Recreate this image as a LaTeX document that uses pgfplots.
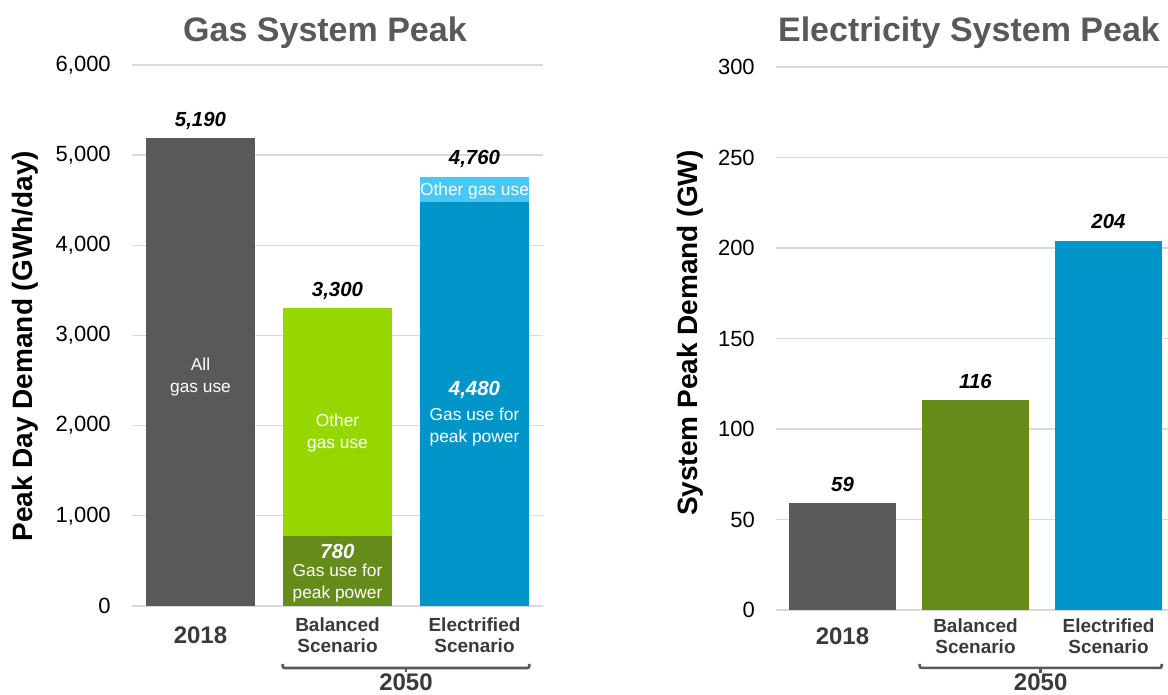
\documentclass[border=0pt]{standalone}
\usepackage{fontspec}
\setmainfont{Liberation Sans}
\usepackage{pgfplots}
\pgfplotsset{compat=1.18}
\definecolor{cgray}{HTML}{58595B}
\definecolor{clgreen}{HTML}{97D700}
\definecolor{cdgreen}{HTML}{658B1B}
\definecolor{cblue}{HTML}{0095C9}
\definecolor{clblue}{HTML}{48C8F5}
\definecolor{ctitle}{HTML}{595959}
\definecolor{cgrid}{HTML}{D9D9D9}
\definecolor{ccat}{HTML}{3A3A3A}
\pgfplotsset{
 mystyle/.style={
  scale only axis, anchor=south west,
  xmin=-0.5, xmax=2.5, ymin=0,
  axis line style={draw=none},
  major tick length=0pt, tick style={draw=none},
  ymajorgrids, grid style={cgrid, line width=1pt},
  xtick={0,1,2},
  xticklabels={{\fontsize{18}{20}\selectfont 2018}, {Balanced\\Scenario}, {Electrified\\Scenario}},
  xticklabel style={align=center, anchor=center, font=\bfseries\fontsize{14.25}{15.75}\selectfont, text=ccat},
  yticklabel style={anchor=east, inner sep=0pt, xshift=-15.75pt, font=\fontsize{16.5}{19}\selectfont},
  /pgf/number format/assume math mode=true,
  /pgf/number format/1000 sep={,},
  ybar, bar width=0.8,
  clip=false,
 },
 tot/.style={nodes near coords, nodes near coords style={font=\bfseries\itshape\fontsize{15.3}{18}\selectfont, anchor=base, yshift=9pt, text=black}},
}
\newcommand{\inner}{\fontsize{13}{16.5}\selectfont}
\newcommand{\innerv}{\bfseries\itshape\fontsize{15.3}{18}\selectfont}
\begin{document}
\begin{tikzpicture}
\path[use as bounding box] (0,0) rectangle (876pt,521.25pt);
% ---------------- Gas ----------------
\begin{axis}[mystyle,
  at={(99pt,66.75pt)}, width=308.25pt, height=405.75pt,
  ymax=6000, ytick={0,1000,...,6000},
  xticklabel style={yshift=-22pt},
  every axis y label/.style={at={(rel axis cs:-0.26,0.48)}, rotate=90, anchor=center, font=\bfseries\fontsize{21}{24}\selectfont},
  ylabel={Peak Day Demand (GWh/day)},
]
\addplot[fill=cgray, draw=none, bar shift=0pt, tot] coordinates {(0,5190)};
\addplot[fill=clgreen, draw=none, bar shift=0pt, tot] coordinates {(1,3300)};
\addplot[fill=clblue, draw=none, bar shift=0pt, tot] coordinates {(2,4760)};
\addplot[fill=cdgreen, draw=none, bar shift=0pt] coordinates {(1,780)};
\addplot[fill=cblue, draw=none, bar shift=0pt] coordinates {(2,4480)};
\node[text=white, align=center, font=\inner] at (axis cs:0,2540) {All\\gas use};
\node[text=white, align=center, font=\inner] at (axis cs:1,1920) {Other\\gas use};
\node[text=white, font=\innerv] at (axis cs:1,610) {780};
\node[text=white, align=center, font=\inner] at (axis cs:1,250) {Gas use for\\peak power};
\node[text=white, font=\innerv] at (axis cs:2,2395) {4,480};
\node[text=white, align=center, font=\inner] at (axis cs:2,1980) {Gas use for\\peak power};
\node[text=white, font=\inner] at (axis cs:2,4600) {Other gas use};
\draw[ctitle, line width=2pt, rounded corners=1.5pt] (axis cs:0.6,-643) -- (axis cs:0.6,-688) -- (axis cs:2.4,-688) -- (axis cs:2.4,-643);
\draw[ctitle, line width=2pt] (axis cs:1.5,-688) -- (axis cs:1.5,-735);
\node[font=\bfseries\fontsize{18}{20}\selectfont, text=ccat] at (axis cs:1.5,-846) {2050};
\end{axis}
\node[font=\bfseries\fontsize{25.5}{28}\selectfont, text=ctitle, anchor=base] at (243.75pt,489.75pt) {Gas System Peak};
% ---------------- Electricity ----------------
\begin{axis}[mystyle,
  at={(582pt,63.75pt)}, width=299.25pt, height=407.25pt,
  ymax=300, ytick={0,50,...,300},
  xticklabel style={yshift=-20pt},
  every axis y label/.style={at={(rel axis cs:-0.2155,0.51)}, rotate=90, anchor=center, font=\bfseries\fontsize{21}{24}\selectfont},
  ylabel={System Peak Demand (GW)},
]
\addplot[fill=cgray, draw=none, bar shift=0pt, tot] coordinates {(0,59)};
\addplot[fill=cdgreen, draw=none, bar shift=0pt, tot] coordinates {(1,116)};
\addplot[fill=cblue, draw=none, bar shift=0pt, tot] coordinates {(2,204)};
\draw[ctitle, line width=2pt, rounded corners=1.5pt] (axis cs:0.58,-29.8) -- (axis cs:0.58,-32.0) -- (axis cs:2.4,-32.0) -- (axis cs:2.4,-29.8);
\draw[ctitle, line width=2pt] (axis cs:1.49,-32.0) -- (axis cs:1.49,-34.6);
\node[font=\bfseries\fontsize{18}{20}\selectfont, text=ccat] at (axis cs:1.49,-39.8) {2050};
\end{axis}
\node[font=\bfseries\fontsize{25.5}{28}\selectfont, text=ctitle, anchor=base] at (726.75pt,489.75pt) {Electricity System Peak};
\end{tikzpicture}
\end{document}
